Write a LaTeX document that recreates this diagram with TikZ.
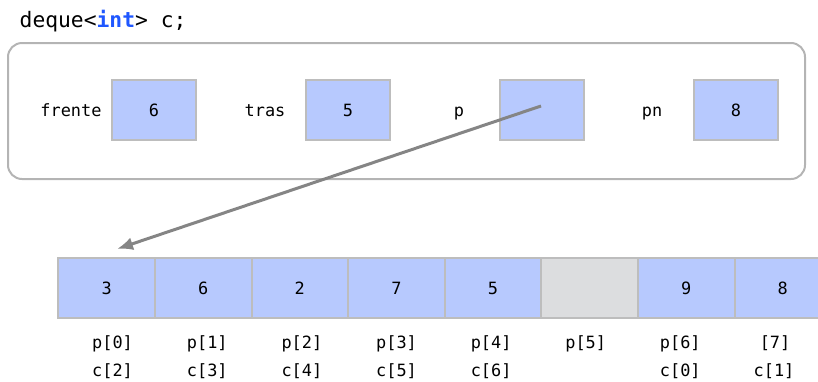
\documentclass[tikz,border=0pt]{standalone}
\usepackage{fontspec}
\setmonofont{DejaVu Sans Mono}
\usetikzlibrary{arrows.meta,calc}
\definecolor{cellblue}{HTML}{B7C9FE}
\definecolor{cellgray}{HTML}{DCDDDF}
\definecolor{edgegray}{HTML}{BDBDBD}
\definecolor{arrowgray}{HTML}{858585}
\definecolor{kwblue}{HTML}{1F57FF}
\tikzset{
  txt/.style={font=\fontsize{16.9}{18}\ttfamily, inner sep=0pt, anchor=base},
  varbox/.style={draw=edgegray, line width=2pt, fill=cellblue, minimum width=84pt, minimum height=60pt, inner sep=0pt, font=\fontsize{16.9}{18}\ttfamily},
  cellbox/.style={draw=edgegray, line width=2pt, fill=cellblue, minimum width=96.6pt, minimum height=60pt, inner sep=0pt, font=\fontsize{16.9}{18}\ttfamily},
  emptycell/.style={cellbox, fill=cellgray},
  frame/.style={draw=edgegray!95!black, line width=2pt, rounded corners=14pt},
  ptr/.style={draw=arrowgray, line width=3pt, -{Latex[length=16pt,width=13pt]}}
}
\begin{document}
\begin{tikzpicture}[x=1pt,y=-1pt]
\useasboundingbox (0,0) rectangle (818,381);
\clip (0,0) rectangle (818,381);
% title
\node[anchor=base west, inner sep=0pt, font=\fontsize{21.3}{23}\ttfamily] (title) at (19.5,27.3) {deque<\textcolor{kwblue}{\textbf{int}}> c;};
% frame
\draw[frame] (8,43) rectangle (805,179);
% variables
\node[txt] (lfrente) at (71,116.6) {frente};
\node[varbox] (frente) at (154,110) {6};
\node[txt] (ltras) at (265,116.6) {tras};
\node[varbox] (tras) at (348,110) {5};
\node[txt] (lp) at (459,116.6) {p};
\node[varbox] (p) at (542,110) {};
\node[txt] (lpn) at (652,116.6) {pn};
\node[varbox] (pn) at (736,110) {8};
% array
\node[cellbox] (c0) at (106.6,288) {3};
\node[cellbox] (c1) at (203.2,288) {6};
\node[cellbox] (c2) at (299.8,288) {2};
\node[cellbox] (c3) at (396.4,288) {7};
\node[cellbox] (c4) at (493.0,288) {5};
\node[emptycell] (c5) at (589.6,288) {};
\node[cellbox] (c6) at (686.2,288) {9};
\node[cellbox] (c7) at (782.8,288) {8};
% index labels
\node[txt] (p0) at (112.5,348.3) {p[0]};
\node[txt] (p1) at (207.3,348.3) {p[1]};
\node[txt] (p2) at (301.9,348.3) {p[2]};
\node[txt] (p3) at (396.5,348.3) {p[3]};
\node[txt] (p4) at (491.1,348.3) {p[4]};
\node[txt] (p5) at (585.7,348.3) {p[5]};
\node[txt] (p6) at (680.3,348.3) {p[6]};
\node[txt] (p7) at (775,348.3) {[7]};
\node[txt] (q0) at (112.5,376) {c[2]};
\node[txt] (q1) at (207.3,376) {c[3]};
\node[txt] (q2) at (301.9,376) {c[4]};
\node[txt] (q3) at (396.5,376) {c[5]};
\node[txt] (q4) at (491.1,376) {c[6]};
\node[txt] (q6) at (680.3,376) {c[0]};
\node[txt] (q7) at (774,376) {c[1]};
% pointer
\coordinate (pstart) at ($(p)+(-1,-4)$);
\coordinate (ptip) at ($(c0.north)+(10.4,-8)$);
\draw[ptr] (pstart) -- (ptip);
\end{tikzpicture}
\end{document}
